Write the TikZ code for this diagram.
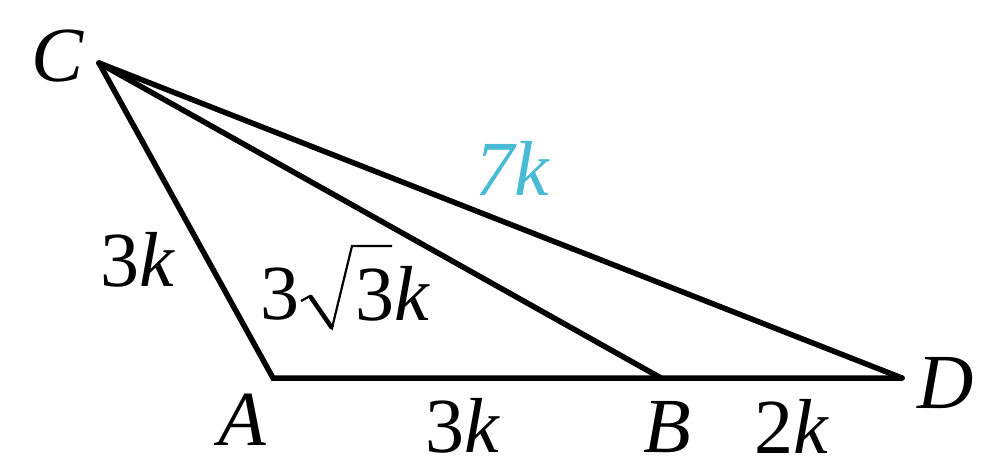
\documentclass[tikz,border=0pt]{standalone}
\usepackage{fontspec}
\setmainfont{Liberation Serif}
\definecolor{labcyan}{RGB}{72,186,214}
\begin{document}
\begin{tikzpicture}[x=1pt,y=-1pt,
  edge/.style={line width=5.5pt,line cap=round,line join=round},
  lab/.style={inner sep=0pt,font=\fontsize{78}{90}\selectfont}]
\useasboundingbox (0,0) rectangle (981,460);
\coordinate (C) at (99,63);
\coordinate (A) at (273,378);
\coordinate (B) at (661,378);
\coordinate (D) at (902,378);
\draw[edge,line join=miter] (C) -- (A) -- (D);
\draw[edge] (C) -- (D);
\draw[edge] (C) -- (B);
\node[lab] (lC) at (58,56) {\textit{C}};
\node[lab] (lA) at (242,420) {\textit{A}};
\node[lab] (lB) at (667,427) {\textit{B}};
\node[lab] (lD) at (946,383) {\textit{D}};
\node[lab] (lCA) at (138,260) {3\textit{k}};
\node[lab] (lCBa) at (280,294) {3};
\node[lab] (lCBb) at (393,294) {3\textit{k}};
\coordinate (r1) at (301,301);
\coordinate (r2) at (310,296);
\coordinate (r3) at (332,328);
\coordinate (r4) at (352,246);
\coordinate (r5) at (392,246);
\draw[line width=2.2pt,line join=miter] (r1) -- (r2) -- (r3) -- (r4) -- (r5);
\draw[line width=4.5pt] (r2) -- (r3);
\node[lab,text=labcyan] (lCD) at (513,168) {\textit{7k}};
\node[lab] (lAB) at (463,426) {3\textit{k}};
\node[lab] (lBD) at (792,426) {2\textit{k}};
\end{tikzpicture}
\end{document}
